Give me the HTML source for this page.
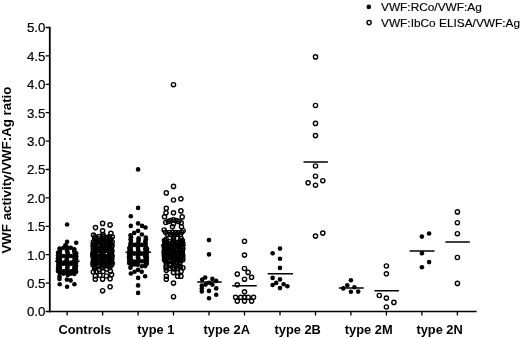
<!DOCTYPE html><html><head><meta charset="utf-8"><title>VWF activity/VWF:Ag ratio</title>
<style>html,body{margin:0;padding:0;background:#fff}svg{display:block;will-change:transform;opacity:.999}text{font-family:"Liberation Sans",Arial,Helvetica,sans-serif;fill:#000}.b{font-weight:bold;font-size:12.85px}.t{font-size:13.3px;stroke:#000;stroke-width:.2px}.l{font-size:11.3px;stroke:#000;stroke-width:.15px}</style></head><body>
<svg width="520" height="338" viewBox="0 0 520 338">
<rect width="520" height="338" fill="#fff"/>
<g stroke="#000" fill="none">
<path d="M49.8 26.8V312.3" stroke-width="1.8"/>
<path d="M48.9 311.5H476.6" stroke-width="1.6"/>
<path d="M45.6 311.5H49.8M45.6 283.1H49.8M45.6 254.7H49.8M45.6 226.3H49.8M45.6 197.9H49.8M45.6 169.5H49.8M45.6 141.1H49.8M45.6 112.7H49.8M45.6 84.3H49.8M45.6 55.9H49.8M45.6 27.5H49.8M67.1 311.5V315.4M102.6 311.5V315.4M138.1 311.5V315.4M173.5 311.5V315.4M209.0 311.5V315.4M244.5 311.5V315.4M280.0 311.5V315.4M315.5 311.5V315.4M350.9 311.5V315.4M386.4 311.5V315.4M421.9 311.5V315.4M457.4 311.5V315.4" stroke-width="1.3"/>
<path d="M55.1 261.2H79.6M90.2 255.7H114.8M125.6 252.3H151.1M160.9 245.3H185.8M197.2 282.1H221.7M232.2 285.7H256.7M267.7 273.8H293.0M303.5 161.9H327.9M338.9 287.9H363.7M374.5 290.8H398.9M409.6 250.9H434.5M445.4 242.0H469.8" stroke-width="1.5"/>
</g>
<text class="t" x="45.4" y="316.3" text-anchor="end">0.0</text>
<text class="t" x="45.4" y="287.9" text-anchor="end">0.5</text>
<text class="t" x="45.4" y="259.5" text-anchor="end">1.0</text>
<text class="t" x="45.4" y="231.1" text-anchor="end">1.5</text>
<text class="t" x="45.4" y="202.7" text-anchor="end">2.0</text>
<text class="t" x="45.4" y="174.3" text-anchor="end">2.5</text>
<text class="t" x="45.4" y="145.9" text-anchor="end">3.0</text>
<text class="t" x="45.4" y="117.5" text-anchor="end">3.5</text>
<text class="t" x="45.4" y="89.1" text-anchor="end">4.0</text>
<text class="t" x="45.4" y="60.7" text-anchor="end">4.5</text>
<text class="t" x="45.4" y="32.3" text-anchor="end">5.0</text>
<text class="b" x="84.8" y="333.8" text-anchor="middle">Controls</text>
<text class="b" x="155.8" y="333.8" text-anchor="middle">type 1</text>
<text class="b" x="226.8" y="333.8" text-anchor="middle">type 2A</text>
<text class="b" x="297.7" y="333.8" text-anchor="middle">type 2B</text>
<text class="b" x="368.7" y="333.8" text-anchor="middle">type 2M</text>
<text class="b" x="439.6" y="333.8" text-anchor="middle">type 2N</text>
<text class="b" transform="translate(11.1 170.1) rotate(-90)" text-anchor="middle" style="font-size:13.3px">VWF activity/VWF:Ag ratio</text>
<circle cx="368.8" cy="6.9" r="2.30"/>
<circle cx="369.1" cy="22.6" r="2.10" fill="#fff" stroke="#000" stroke-width="1.40"/>
<text class="l" transform="translate(381 11.2) scale(1.05 1)">VWF:RCo/VWF:Ag</text>
<text class="l" transform="translate(381 26.6) scale(1.05 1)">VWF:IbCo ELISA/VWF:Ag</text>
<g fill="#000">
<circle cx="67.1" cy="224.5" r="2.30"/><circle cx="67.1" cy="241.7" r="2.30"/><circle cx="76.2" cy="242.7" r="2.30"/><circle cx="65.4" cy="245.3" r="2.30"/><circle cx="66.5" cy="246.5" r="2.30"/><circle cx="67.5" cy="248.4" r="2.30"/><circle cx="67.0" cy="250.3" r="2.30"/><circle cx="67.4" cy="252.2" r="2.30"/><circle cx="67.8" cy="254.1" r="2.30"/><circle cx="67.2" cy="256.0" r="2.30"/><circle cx="67.1" cy="257.9" r="2.30"/><circle cx="66.5" cy="259.8" r="2.30"/><circle cx="66.8" cy="261.7" r="2.30"/><circle cx="67.1" cy="263.6" r="2.30"/><circle cx="67.4" cy="265.5" r="2.30"/><circle cx="67.5" cy="267.4" r="2.30"/><circle cx="66.9" cy="269.3" r="2.30"/><circle cx="66.5" cy="271.2" r="2.30"/><circle cx="66.8" cy="273.1" r="2.30"/><circle cx="67.7" cy="275.0" r="2.30"/><circle cx="59.5" cy="248.6" r="2.30"/><circle cx="74.4" cy="249.2" r="2.30"/><circle cx="60.1" cy="250.5" r="2.30"/><circle cx="74.1" cy="251.1" r="2.30"/><circle cx="59.8" cy="252.4" r="2.30"/><circle cx="74.8" cy="253.0" r="2.30"/><circle cx="59.5" cy="254.3" r="2.30"/><circle cx="74.5" cy="254.9" r="2.30"/><circle cx="60.1" cy="256.2" r="2.30"/><circle cx="74.2" cy="256.8" r="2.30"/><circle cx="59.8" cy="258.1" r="2.30"/><circle cx="74.7" cy="258.7" r="2.30"/><circle cx="59.9" cy="260.0" r="2.30"/><circle cx="74.4" cy="260.6" r="2.30"/><circle cx="59.5" cy="261.9" r="2.30"/><circle cx="74.4" cy="262.5" r="2.30"/><circle cx="59.6" cy="263.8" r="2.30"/><circle cx="74.4" cy="264.4" r="2.30"/><circle cx="59.6" cy="265.7" r="2.30"/><circle cx="74.7" cy="266.3" r="2.30"/><circle cx="60.0" cy="267.6" r="2.30"/><circle cx="74.3" cy="268.2" r="2.30"/><circle cx="59.8" cy="269.5" r="2.30"/><circle cx="74.3" cy="270.1" r="2.30"/><circle cx="59.7" cy="271.4" r="2.30"/><circle cx="74.3" cy="272.0" r="2.30"/><circle cx="59.9" cy="273.3" r="2.30"/><circle cx="74.3" cy="273.9" r="2.30"/><circle cx="63.4" cy="247.7" r="2.30"/><circle cx="70.8" cy="247.7" r="2.30"/><circle cx="63.4" cy="256.0" r="2.30"/><circle cx="70.8" cy="256.0" r="2.30"/><circle cx="63.4" cy="263.2" r="2.30"/><circle cx="70.8" cy="263.2" r="2.30"/><circle cx="63.4" cy="263.8" r="2.30"/><circle cx="70.8" cy="263.8" r="2.30"/><circle cx="63.4" cy="271.2" r="2.30"/><circle cx="70.8" cy="271.2" r="2.30"/><circle cx="63.4" cy="273.6" r="2.30"/><circle cx="70.8" cy="273.6" r="2.30"/><circle cx="58.1" cy="252.5" r="2.30"/><circle cx="76.2" cy="253.3" r="2.30"/><circle cx="58.0" cy="255.5" r="2.30"/><circle cx="76.3" cy="256.3" r="2.30"/><circle cx="57.9" cy="258.5" r="2.30"/><circle cx="76.2" cy="259.3" r="2.30"/><circle cx="58.1" cy="262.0" r="2.30"/><circle cx="76.1" cy="262.8" r="2.30"/><circle cx="58.2" cy="265.0" r="2.30"/><circle cx="76.1" cy="265.8" r="2.30"/><circle cx="58.0" cy="268.0" r="2.30"/><circle cx="75.8" cy="268.8" r="2.30"/><circle cx="57.9" cy="271.0" r="2.30"/><circle cx="76.2" cy="271.8" r="2.30"/><circle cx="59.5" cy="276.5" r="2.30"/><circle cx="59.5" cy="279.0" r="2.30"/><circle cx="66.9" cy="279.6" r="2.30"/><circle cx="70.6" cy="280.4" r="2.30"/><circle cx="59.7" cy="284.3" r="2.30"/><circle cx="74.4" cy="284.3" r="2.30"/><circle cx="67.1" cy="286.8" r="2.30"/><circle cx="138.1" cy="169.4" r="2.30"/><circle cx="138.1" cy="207.9" r="2.30"/><circle cx="130.8" cy="216.3" r="2.30"/><circle cx="138.1" cy="223.4" r="2.30"/><circle cx="130.8" cy="225.9" r="2.30"/><circle cx="142.1" cy="225.9" r="2.30"/><circle cx="145.5" cy="227.5" r="2.30"/><circle cx="138.1" cy="230.9" r="2.30"/><circle cx="134.2" cy="232.9" r="2.30"/><circle cx="141.9" cy="234.5" r="2.30"/><circle cx="138.6" cy="238.2" r="2.30"/><circle cx="138.6" cy="240.1" r="2.30"/><circle cx="138.4" cy="242.0" r="2.30"/><circle cx="137.5" cy="243.9" r="2.30"/><circle cx="137.8" cy="245.8" r="2.30"/><circle cx="138.0" cy="247.7" r="2.30"/><circle cx="138.1" cy="249.6" r="2.30"/><circle cx="138.5" cy="251.5" r="2.30"/><circle cx="137.7" cy="253.4" r="2.30"/><circle cx="138.3" cy="255.3" r="2.30"/><circle cx="137.9" cy="257.2" r="2.30"/><circle cx="138.4" cy="259.1" r="2.30"/><circle cx="137.6" cy="261.0" r="2.30"/><circle cx="138.0" cy="262.9" r="2.30"/><circle cx="137.5" cy="264.8" r="2.30"/><circle cx="130.5" cy="235.4" r="2.30"/><circle cx="131.1" cy="237.3" r="2.30"/><circle cx="130.6" cy="239.2" r="2.30"/><circle cx="131.0" cy="241.1" r="2.30"/><circle cx="130.7" cy="243.0" r="2.30"/><circle cx="130.3" cy="244.9" r="2.30"/><circle cx="130.9" cy="246.8" r="2.30"/><circle cx="130.4" cy="248.7" r="2.30"/><circle cx="131.0" cy="250.6" r="2.30"/><circle cx="130.3" cy="252.5" r="2.30"/><circle cx="130.8" cy="254.4" r="2.30"/><circle cx="130.4" cy="256.3" r="2.30"/><circle cx="130.6" cy="258.2" r="2.30"/><circle cx="131.1" cy="260.1" r="2.30"/><circle cx="130.7" cy="262.0" r="2.30"/><circle cx="130.8" cy="263.9" r="2.30"/><circle cx="130.9" cy="265.8" r="2.30"/><circle cx="130.4" cy="267.7" r="2.30"/><circle cx="145.8" cy="237.6" r="2.30"/><circle cx="145.9" cy="239.5" r="2.30"/><circle cx="145.3" cy="241.4" r="2.30"/><circle cx="145.6" cy="243.3" r="2.30"/><circle cx="145.4" cy="245.2" r="2.30"/><circle cx="145.8" cy="247.1" r="2.30"/><circle cx="145.2" cy="249.0" r="2.30"/><circle cx="145.6" cy="250.9" r="2.30"/><circle cx="145.8" cy="252.8" r="2.30"/><circle cx="145.7" cy="254.7" r="2.30"/><circle cx="145.2" cy="256.6" r="2.30"/><circle cx="145.8" cy="258.5" r="2.30"/><circle cx="145.4" cy="260.4" r="2.30"/><circle cx="145.8" cy="262.3" r="2.30"/><circle cx="145.6" cy="264.2" r="2.30"/><circle cx="145.3" cy="266.1" r="2.30"/><circle cx="129.3" cy="248.0" r="2.30"/><circle cx="147.1" cy="248.7" r="2.30"/><circle cx="129.3" cy="251.0" r="2.30"/><circle cx="147.2" cy="251.7" r="2.30"/><circle cx="129.0" cy="254.0" r="2.30"/><circle cx="146.8" cy="254.7" r="2.30"/><circle cx="128.9" cy="257.0" r="2.30"/><circle cx="147.0" cy="257.7" r="2.30"/><circle cx="129.1" cy="260.0" r="2.30"/><circle cx="146.9" cy="260.7" r="2.30"/><circle cx="129.1" cy="263.0" r="2.30"/><circle cx="146.8" cy="263.7" r="2.30"/><circle cx="134.4" cy="244.9" r="2.30"/><circle cx="134.4" cy="253.6" r="2.30"/><circle cx="134.4" cy="261.6" r="2.30"/><circle cx="134.4" cy="264.5" r="2.30"/><circle cx="141.8" cy="244.9" r="2.30"/><circle cx="141.8" cy="253.8" r="2.30"/><circle cx="141.8" cy="261.3" r="2.30"/><circle cx="141.8" cy="266.3" r="2.30"/><circle cx="138.1" cy="269.9" r="2.30"/><circle cx="134.6" cy="271.7" r="2.30"/><circle cx="141.7" cy="271.7" r="2.30"/><circle cx="130.8" cy="273.5" r="2.30"/><circle cx="145.1" cy="276.3" r="2.30"/><circle cx="138.1" cy="277.9" r="2.30"/><circle cx="138.1" cy="285.4" r="2.30"/><circle cx="138.1" cy="292.9" r="2.30"/><circle cx="209.0" cy="240.1" r="2.30"/><circle cx="209.0" cy="254.4" r="2.30"/><circle cx="205.2" cy="277.5" r="2.30"/><circle cx="212.4" cy="278.9" r="2.30"/><circle cx="202.2" cy="279.6" r="2.30"/><circle cx="216.2" cy="280.9" r="2.30"/><circle cx="209.0" cy="282.7" r="2.30"/><circle cx="205.6" cy="284.6" r="2.30"/><circle cx="212.4" cy="284.6" r="2.30"/><circle cx="201.8" cy="285.5" r="2.30"/><circle cx="201.8" cy="288.4" r="2.30"/><circle cx="201.8" cy="291.4" r="2.30"/><circle cx="216.2" cy="288.4" r="2.30"/><circle cx="209.0" cy="290.9" r="2.30"/><circle cx="216.2" cy="294.8" r="2.30"/><circle cx="209.0" cy="298.2" r="2.30"/><circle cx="280.0" cy="248.6" r="2.30"/><circle cx="272.6" cy="253.2" r="2.30"/><circle cx="280.0" cy="258.7" r="2.30"/><circle cx="280.0" cy="267.9" r="2.30"/><circle cx="272.6" cy="277.9" r="2.30"/><circle cx="280.0" cy="279.4" r="2.30"/><circle cx="276.2" cy="282.9" r="2.30"/><circle cx="272.6" cy="285.0" r="2.30"/><circle cx="283.6" cy="284.3" r="2.30"/><circle cx="287.4" cy="286.2" r="2.30"/><circle cx="280.0" cy="288.1" r="2.30"/><circle cx="350.9" cy="280.2" r="2.30"/><circle cx="347.3" cy="285.3" r="2.30"/><circle cx="343.3" cy="288.4" r="2.30"/><circle cx="354.4" cy="287.3" r="2.30"/><circle cx="350.9" cy="291.7" r="2.30"/><circle cx="358.2" cy="291.6" r="2.30"/><circle cx="429.1" cy="233.5" r="2.30"/><circle cx="421.9" cy="236.6" r="2.30"/><circle cx="421.9" cy="253.2" r="2.30"/><circle cx="429.1" cy="262.1" r="2.30"/><circle cx="421.9" cy="267.2" r="2.30"/>
</g>
<g fill="none" stroke="#000" stroke-width="1.40">
<circle cx="102.6" cy="223.4" r="2.10"/><circle cx="110.1" cy="224.9" r="2.10"/><circle cx="95.5" cy="227.6" r="2.10"/><circle cx="102.6" cy="230.8" r="2.10"/><circle cx="110.9" cy="233.4" r="2.10"/><circle cx="93.5" cy="235.1" r="2.10"/><circle cx="112.3" cy="236.7" r="2.10"/><circle cx="103.0" cy="234.5" r="2.10"/><circle cx="103.1" cy="236.1" r="2.10"/><circle cx="102.6" cy="237.8" r="2.10"/><circle cx="102.5" cy="238.7" r="2.10"/><circle cx="103.0" cy="239.1" r="2.10"/><circle cx="103.2" cy="240.8" r="2.10"/><circle cx="102.9" cy="242.5" r="2.10"/><circle cx="103.1" cy="243.3" r="2.10"/><circle cx="103.3" cy="245.7" r="2.10"/><circle cx="101.8" cy="246.9" r="2.10"/><circle cx="103.2" cy="248.1" r="2.10"/><circle cx="102.2" cy="248.9" r="2.10"/><circle cx="102.5" cy="250.7" r="2.10"/><circle cx="103.1" cy="251.0" r="2.10"/><circle cx="102.9" cy="252.6" r="2.10"/><circle cx="102.0" cy="254.1" r="2.10"/><circle cx="102.8" cy="255.8" r="2.10"/><circle cx="101.9" cy="256.8" r="2.10"/><circle cx="102.4" cy="257.6" r="2.10"/><circle cx="103.1" cy="259.2" r="2.10"/><circle cx="102.5" cy="260.5" r="2.10"/><circle cx="102.7" cy="261.8" r="2.10"/><circle cx="102.9" cy="262.9" r="2.10"/><circle cx="103.1" cy="264.6" r="2.10"/><circle cx="103.0" cy="265.9" r="2.10"/><circle cx="94.9" cy="236.8" r="2.10"/><circle cx="94.7" cy="238.8" r="2.10"/><circle cx="95.8" cy="240.3" r="2.10"/><circle cx="95.9" cy="241.2" r="2.10"/><circle cx="94.7" cy="243.3" r="2.10"/><circle cx="95.1" cy="244.8" r="2.10"/><circle cx="95.6" cy="246.5" r="2.10"/><circle cx="95.8" cy="248.1" r="2.10"/><circle cx="94.7" cy="248.4" r="2.10"/><circle cx="95.5" cy="249.9" r="2.10"/><circle cx="95.7" cy="252.0" r="2.10"/><circle cx="95.3" cy="252.7" r="2.10"/><circle cx="94.7" cy="254.2" r="2.10"/><circle cx="94.5" cy="256.1" r="2.10"/><circle cx="94.9" cy="257.0" r="2.10"/><circle cx="95.7" cy="259.3" r="2.10"/><circle cx="94.5" cy="260.8" r="2.10"/><circle cx="94.4" cy="261.1" r="2.10"/><circle cx="95.0" cy="263.2" r="2.10"/><circle cx="94.5" cy="265.0" r="2.10"/><circle cx="94.7" cy="266.7" r="2.10"/><circle cx="109.3" cy="236.8" r="2.10"/><circle cx="110.6" cy="239.0" r="2.10"/><circle cx="109.2" cy="240.6" r="2.10"/><circle cx="110.2" cy="241.7" r="2.10"/><circle cx="109.2" cy="242.7" r="2.10"/><circle cx="109.7" cy="244.4" r="2.10"/><circle cx="109.8" cy="246.2" r="2.10"/><circle cx="109.4" cy="248.1" r="2.10"/><circle cx="110.0" cy="249.6" r="2.10"/><circle cx="110.0" cy="250.0" r="2.10"/><circle cx="109.6" cy="251.1" r="2.10"/><circle cx="110.3" cy="253.6" r="2.10"/><circle cx="109.4" cy="255.2" r="2.10"/><circle cx="109.4" cy="256.0" r="2.10"/><circle cx="109.7" cy="257.8" r="2.10"/><circle cx="109.7" cy="259.4" r="2.10"/><circle cx="109.5" cy="260.5" r="2.10"/><circle cx="110.6" cy="262.2" r="2.10"/><circle cx="110.5" cy="262.5" r="2.10"/><circle cx="109.3" cy="264.3" r="2.10"/><circle cx="109.7" cy="265.7" r="2.10"/><circle cx="99.2" cy="236.6" r="2.10"/><circle cx="98.2" cy="238.9" r="2.10"/><circle cx="99.8" cy="240.6" r="2.10"/><circle cx="99.8" cy="242.8" r="2.10"/><circle cx="98.7" cy="245.3" r="2.10"/><circle cx="99.1" cy="246.5" r="2.10"/><circle cx="98.0" cy="248.8" r="2.10"/><circle cx="99.9" cy="250.7" r="2.10"/><circle cx="99.5" cy="252.8" r="2.10"/><circle cx="99.2" cy="253.8" r="2.10"/><circle cx="99.4" cy="256.7" r="2.10"/><circle cx="98.3" cy="258.9" r="2.10"/><circle cx="98.5" cy="260.3" r="2.10"/><circle cx="98.4" cy="261.8" r="2.10"/><circle cx="99.1" cy="264.3" r="2.10"/><circle cx="98.1" cy="266.3" r="2.10"/><circle cx="107.0" cy="237.6" r="2.10"/><circle cx="106.1" cy="238.9" r="2.10"/><circle cx="107.1" cy="240.8" r="2.10"/><circle cx="107.0" cy="242.2" r="2.10"/><circle cx="105.5" cy="245.0" r="2.10"/><circle cx="106.6" cy="247.1" r="2.10"/><circle cx="105.9" cy="248.8" r="2.10"/><circle cx="106.8" cy="250.2" r="2.10"/><circle cx="106.4" cy="252.9" r="2.10"/><circle cx="106.2" cy="253.9" r="2.10"/><circle cx="107.1" cy="256.8" r="2.10"/><circle cx="105.4" cy="258.4" r="2.10"/><circle cx="106.4" cy="259.9" r="2.10"/><circle cx="105.9" cy="262.2" r="2.10"/><circle cx="105.4" cy="264.2" r="2.10"/><circle cx="106.8" cy="265.7" r="2.10"/><circle cx="93.4" cy="242.1" r="2.10"/><circle cx="93.1" cy="245.1" r="2.10"/><circle cx="93.4" cy="247.2" r="2.10"/><circle cx="93.3" cy="249.4" r="2.10"/><circle cx="93.1" cy="252.9" r="2.10"/><circle cx="92.9" cy="254.2" r="2.10"/><circle cx="93.0" cy="256.7" r="2.10"/><circle cx="93.5" cy="260.2" r="2.10"/><circle cx="93.1" cy="262.3" r="2.10"/><circle cx="93.0" cy="264.8" r="2.10"/><circle cx="112.1" cy="241.7" r="2.10"/><circle cx="112.0" cy="245.1" r="2.10"/><circle cx="111.7" cy="246.6" r="2.10"/><circle cx="111.7" cy="250.1" r="2.10"/><circle cx="111.8" cy="251.7" r="2.10"/><circle cx="111.8" cy="255.4" r="2.10"/><circle cx="111.7" cy="257.4" r="2.10"/><circle cx="111.7" cy="259.2" r="2.10"/><circle cx="112.2" cy="263.0" r="2.10"/><circle cx="111.7" cy="264.8" r="2.10"/><circle cx="102.1" cy="268.0" r="2.10"/><circle cx="103.0" cy="271.5" r="2.10"/><circle cx="94.6" cy="268.6" r="2.10"/><circle cx="96.2" cy="271.5" r="2.10"/><circle cx="109.8" cy="267.4" r="2.10"/><circle cx="110.4" cy="271.3" r="2.10"/><circle cx="99.0" cy="269.5" r="2.10"/><circle cx="106.7" cy="268.9" r="2.10"/><circle cx="93.3" cy="272.0" r="2.10"/><circle cx="95.3" cy="276.0" r="2.10"/><circle cx="95.3" cy="279.2" r="2.10"/><circle cx="99.9" cy="275.3" r="2.10"/><circle cx="102.6" cy="279.2" r="2.10"/><circle cx="106.4" cy="276.0" r="2.10"/><circle cx="111.6" cy="274.6" r="2.10"/><circle cx="110.1" cy="278.8" r="2.10"/><circle cx="110.1" cy="286.8" r="2.10"/><circle cx="102.6" cy="290.7" r="2.10"/><circle cx="173.5" cy="84.7" r="2.10"/><circle cx="173.5" cy="186.4" r="2.10"/><circle cx="166.3" cy="192.9" r="2.10"/><circle cx="173.5" cy="200.0" r="2.10"/><circle cx="180.9" cy="198.8" r="2.10"/><circle cx="166.3" cy="208.3" r="2.10"/><circle cx="180.9" cy="210.9" r="2.10"/><circle cx="173.5" cy="212.8" r="2.10"/><circle cx="166.0" cy="212.8" r="2.10"/><circle cx="164.5" cy="216.8" r="2.10"/><circle cx="182.2" cy="216.9" r="2.10"/><circle cx="168.3" cy="221.4" r="2.10"/><circle cx="170.8" cy="220.6" r="2.10"/><circle cx="173.5" cy="219.8" r="2.10"/><circle cx="176.2" cy="220.6" r="2.10"/><circle cx="178.7" cy="221.4" r="2.10"/><circle cx="165.8" cy="222.5" r="2.10"/><circle cx="181.2" cy="222.8" r="2.10"/><circle cx="173.5" cy="223.8" r="2.10"/><circle cx="172.5" cy="226.7" r="2.10"/><circle cx="181.5" cy="226.7" r="2.10"/><circle cx="164.2" cy="230.0" r="2.10"/><circle cx="183.1" cy="230.7" r="2.10"/><circle cx="165.5" cy="232.2" r="2.10"/><circle cx="169.3" cy="232.6" r="2.10"/><circle cx="172.5" cy="232.4" r="2.10"/><circle cx="175.7" cy="232.6" r="2.10"/><circle cx="178.5" cy="232.9" r="2.10"/><circle cx="181.7" cy="232.3" r="2.10"/><circle cx="167.5" cy="234.4" r="2.10"/><circle cx="171.0" cy="234.4" r="2.10"/><circle cx="174.3" cy="234.1" r="2.10"/><circle cx="177.3" cy="234.3" r="2.10"/><circle cx="180.3" cy="234.7" r="2.10"/><circle cx="166.2" cy="239.2" r="2.10"/><circle cx="176.9" cy="238.5" r="2.10"/><circle cx="181.2" cy="238.5" r="2.10"/><circle cx="173.5" cy="237.0" r="2.10"/><circle cx="173.5" cy="239.0" r="2.10"/><circle cx="173.3" cy="240.3" r="2.10"/><circle cx="173.3" cy="242.0" r="2.10"/><circle cx="174.3" cy="243.4" r="2.10"/><circle cx="172.9" cy="243.9" r="2.10"/><circle cx="174.2" cy="246.0" r="2.10"/><circle cx="174.1" cy="246.7" r="2.10"/><circle cx="173.1" cy="247.7" r="2.10"/><circle cx="173.3" cy="249.2" r="2.10"/><circle cx="173.7" cy="250.0" r="2.10"/><circle cx="174.0" cy="251.7" r="2.10"/><circle cx="174.3" cy="252.2" r="2.10"/><circle cx="174.3" cy="254.4" r="2.10"/><circle cx="173.2" cy="255.0" r="2.10"/><circle cx="173.0" cy="255.8" r="2.10"/><circle cx="173.5" cy="257.3" r="2.10"/><circle cx="173.6" cy="259.1" r="2.10"/><circle cx="173.8" cy="260.2" r="2.10"/><circle cx="172.9" cy="261.0" r="2.10"/><circle cx="165.6" cy="240.7" r="2.10"/><circle cx="165.8" cy="242.4" r="2.10"/><circle cx="166.0" cy="243.6" r="2.10"/><circle cx="165.7" cy="245.0" r="2.10"/><circle cx="166.3" cy="246.2" r="2.10"/><circle cx="165.7" cy="247.6" r="2.10"/><circle cx="166.3" cy="247.6" r="2.10"/><circle cx="166.9" cy="250.1" r="2.10"/><circle cx="166.7" cy="250.4" r="2.10"/><circle cx="165.5" cy="251.8" r="2.10"/><circle cx="165.7" cy="253.3" r="2.10"/><circle cx="166.1" cy="255.2" r="2.10"/><circle cx="166.4" cy="256.0" r="2.10"/><circle cx="166.0" cy="257.0" r="2.10"/><circle cx="165.8" cy="258.3" r="2.10"/><circle cx="165.9" cy="260.3" r="2.10"/><circle cx="165.7" cy="261.5" r="2.10"/><circle cx="180.5" cy="241.0" r="2.10"/><circle cx="181.4" cy="242.1" r="2.10"/><circle cx="181.2" cy="242.9" r="2.10"/><circle cx="181.2" cy="244.6" r="2.10"/><circle cx="180.2" cy="245.7" r="2.10"/><circle cx="180.4" cy="246.9" r="2.10"/><circle cx="180.1" cy="248.0" r="2.10"/><circle cx="180.2" cy="249.5" r="2.10"/><circle cx="180.3" cy="251.4" r="2.10"/><circle cx="181.6" cy="252.4" r="2.10"/><circle cx="181.5" cy="253.8" r="2.10"/><circle cx="180.4" cy="254.1" r="2.10"/><circle cx="180.5" cy="255.9" r="2.10"/><circle cx="181.6" cy="257.0" r="2.10"/><circle cx="181.0" cy="257.9" r="2.10"/><circle cx="180.7" cy="259.6" r="2.10"/><circle cx="180.8" cy="260.4" r="2.10"/><circle cx="169.8" cy="241.7" r="2.10"/><circle cx="170.6" cy="243.6" r="2.10"/><circle cx="168.9" cy="245.2" r="2.10"/><circle cx="170.6" cy="246.4" r="2.10"/><circle cx="169.1" cy="248.3" r="2.10"/><circle cx="169.6" cy="248.8" r="2.10"/><circle cx="169.8" cy="250.9" r="2.10"/><circle cx="169.8" cy="252.9" r="2.10"/><circle cx="168.9" cy="253.2" r="2.10"/><circle cx="169.5" cy="255.1" r="2.10"/><circle cx="169.6" cy="256.8" r="2.10"/><circle cx="170.8" cy="257.8" r="2.10"/><circle cx="170.7" cy="260.2" r="2.10"/><circle cx="170.0" cy="261.0" r="2.10"/><circle cx="177.4" cy="242.6" r="2.10"/><circle cx="176.7" cy="244.0" r="2.10"/><circle cx="176.7" cy="244.7" r="2.10"/><circle cx="177.3" cy="245.8" r="2.10"/><circle cx="176.7" cy="248.0" r="2.10"/><circle cx="176.3" cy="249.1" r="2.10"/><circle cx="177.0" cy="250.1" r="2.10"/><circle cx="177.7" cy="252.9" r="2.10"/><circle cx="176.8" cy="254.3" r="2.10"/><circle cx="178.0" cy="255.2" r="2.10"/><circle cx="177.6" cy="256.8" r="2.10"/><circle cx="177.5" cy="258.3" r="2.10"/><circle cx="178.0" cy="260.1" r="2.10"/><circle cx="176.4" cy="261.0" r="2.10"/><circle cx="164.5" cy="240.6" r="2.10"/><circle cx="164.8" cy="243.9" r="2.10"/><circle cx="164.5" cy="246.3" r="2.10"/><circle cx="164.3" cy="247.5" r="2.10"/><circle cx="164.4" cy="250.9" r="2.10"/><circle cx="164.2" cy="252.2" r="2.10"/><circle cx="164.3" cy="254.7" r="2.10"/><circle cx="164.5" cy="257.1" r="2.10"/><circle cx="164.5" cy="259.7" r="2.10"/><circle cx="182.3" cy="240.6" r="2.10"/><circle cx="182.7" cy="243.2" r="2.10"/><circle cx="182.4" cy="245.2" r="2.10"/><circle cx="182.8" cy="248.3" r="2.10"/><circle cx="182.5" cy="250.3" r="2.10"/><circle cx="182.3" cy="252.4" r="2.10"/><circle cx="182.7" cy="255.2" r="2.10"/><circle cx="182.7" cy="257.2" r="2.10"/><circle cx="182.8" cy="259.7" r="2.10"/><circle cx="173.5" cy="262.5" r="2.10"/><circle cx="173.7" cy="265.4" r="2.10"/><circle cx="173.1" cy="267.5" r="2.10"/><circle cx="174.1" cy="268.7" r="2.10"/><circle cx="166.6" cy="263.3" r="2.10"/><circle cx="166.1" cy="266.0" r="2.10"/><circle cx="166.2" cy="267.9" r="2.10"/><circle cx="179.8" cy="263.3" r="2.10"/><circle cx="179.8" cy="266.1" r="2.10"/><circle cx="180.4" cy="267.5" r="2.10"/><circle cx="169.9" cy="263.9" r="2.10"/><circle cx="170.3" cy="265.6" r="2.10"/><circle cx="169.4" cy="268.5" r="2.10"/><circle cx="176.9" cy="262.8" r="2.10"/><circle cx="177.6" cy="266.0" r="2.10"/><circle cx="177.5" cy="268.3" r="2.10"/><circle cx="166.3" cy="270.3" r="2.10"/><circle cx="166.3" cy="276.3" r="2.10"/><circle cx="166.3" cy="279.3" r="2.10"/><circle cx="173.5" cy="272.6" r="2.10"/><circle cx="177.6" cy="272.6" r="2.10"/><circle cx="181.0" cy="271.4" r="2.10"/><circle cx="182.9" cy="267.7" r="2.10"/><circle cx="177.6" cy="276.3" r="2.10"/><circle cx="181.0" cy="276.3" r="2.10"/><circle cx="173.5" cy="283.1" r="2.10"/><circle cx="173.5" cy="296.7" r="2.10"/><circle cx="244.5" cy="241.3" r="2.10"/><circle cx="244.5" cy="255.1" r="2.10"/><circle cx="244.5" cy="268.5" r="2.10"/><circle cx="237.3" cy="274.1" r="2.10"/><circle cx="248.1" cy="272.4" r="2.10"/><circle cx="251.6" cy="277.3" r="2.10"/><circle cx="244.5" cy="279.2" r="2.10"/><circle cx="237.3" cy="284.8" r="2.10"/><circle cx="244.5" cy="291.8" r="2.10"/><circle cx="235.6" cy="297.3" r="2.10"/><circle cx="240.8" cy="297.3" r="2.10"/><circle cx="244.5" cy="297.3" r="2.10"/><circle cx="248.2" cy="297.3" r="2.10"/><circle cx="253.6" cy="297.3" r="2.10"/><circle cx="237.3" cy="301.1" r="2.10"/><circle cx="244.5" cy="301.1" r="2.10"/><circle cx="251.6" cy="301.1" r="2.10"/><circle cx="315.5" cy="56.9" r="2.10"/><circle cx="315.5" cy="105.5" r="2.10"/><circle cx="315.5" cy="123.4" r="2.10"/><circle cx="315.5" cy="135.6" r="2.10"/><circle cx="315.5" cy="166.0" r="2.10"/><circle cx="315.5" cy="176.2" r="2.10"/><circle cx="322.8" cy="180.7" r="2.10"/><circle cx="308.1" cy="182.8" r="2.10"/><circle cx="315.5" cy="185.2" r="2.10"/><circle cx="315.5" cy="236.1" r="2.10"/><circle cx="322.8" cy="233.1" r="2.10"/><circle cx="386.4" cy="266.0" r="2.10"/><circle cx="386.4" cy="273.8" r="2.10"/><circle cx="379.3" cy="295.5" r="2.10"/><circle cx="386.4" cy="298.1" r="2.10"/><circle cx="393.9" cy="302.4" r="2.10"/><circle cx="386.4" cy="307.0" r="2.10"/><circle cx="457.4" cy="211.9" r="2.10"/><circle cx="457.4" cy="222.7" r="2.10"/><circle cx="457.4" cy="233.7" r="2.10"/><circle cx="457.4" cy="257.5" r="2.10"/><circle cx="457.4" cy="283.4" r="2.10"/>
</g>
</svg></body></html>
